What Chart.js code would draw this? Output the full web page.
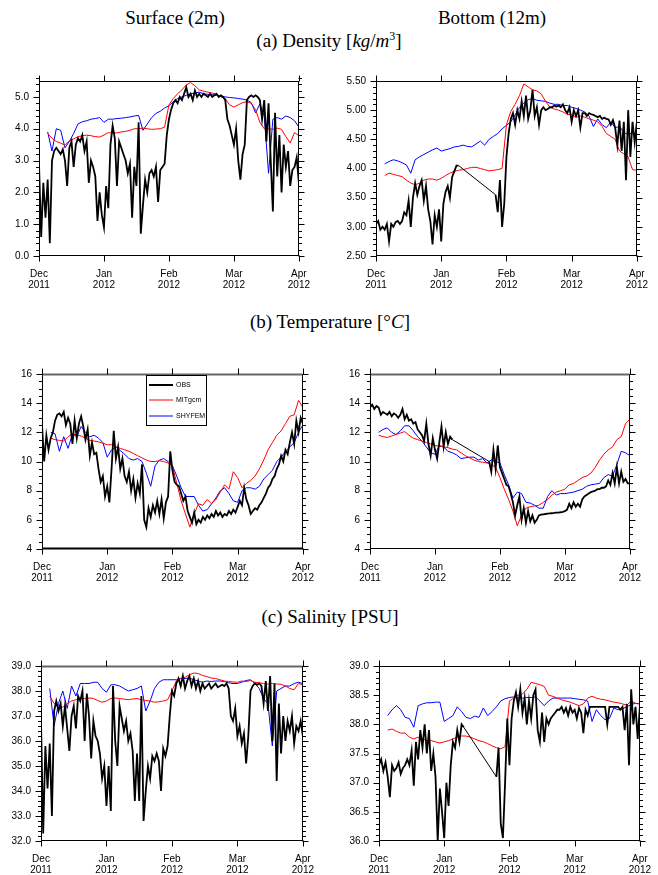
<!DOCTYPE html>
<html><head><meta charset="utf-8">
<script src="https://cdn.jsdelivr.net/npm/chart.js@4.4.1/dist/chart.umd.min.js"></script>
<style>
html,body{margin:0;padding:0;background:#fff;}
body{width:658px;height:875px;position:relative;overflow:hidden;}
.t{position:absolute;font-family:"Liberation Serif","Times New Roman",serif;font-size:19px;color:#000;white-space:nowrap;transform:translate(-50%,-50%);line-height:1;}
.t sup{font-size:12px;vertical-align:7px;line-height:0;}
canvas{position:absolute;}
</style></head><body>
<div class="t" style="left:175px;top:17px">Surface (2m)</div>
<div class="t" style="left:492px;top:17px">Bottom (12m)</div>
<div class="t" style="left:329px;top:40px">(a) Density [<i>kg</i>/<i>m</i><sup>3</sup>]</div>
<div class="t" style="left:330px;top:321px">(b) Temperature [°<i>C</i>]</div>
<div class="t" style="left:330px;top:616px">(c) Salinity [PSU]</div>
<canvas id="c1"></canvas><canvas id="c2"></canvas>
<canvas id="c3"></canvas><canvas id="c4"></canvas>
<canvas id="c5"></canvas><canvas id="c6"></canvas>
<script>
// ---- labels ----
const monthLabels = [['Dec','2011'],['Jan','2012'],['Feb','2012'],['Mar','2012'],['Apr','2012']];
const seriesNames = ['OBS','MITgcm','SHYFEM'];
const seriesColors = ['#000000','#ff0000','#0000ff'];
const densSurfTicks = [0,1,2,3,4,5];
const densBotTicks = [2.5,3,3.5,4,4.5,5,5.5];
const tempTicks = [4,6,8,10,12,14,16];
const salSurfTicks = [32,33,34,35,36,37,38,39];
const salBotTicks = [36,36.5,37,37.5,38,38.5,39];

// ---- OBS: one value per 1/30 month from 1 Dec 2011 (121 values); models: one per 1/15 month (61 values) ----
const densSurfObs = [2.9,0.6,2.3,1.2,2.4,0.4,3.0,3.3,3.4,3.3,
 3.2,3.35,3.0,2.2,3.4,3.6,2.8,3.5,3.7,3.6,
 3.8,3.3,3.6,2.3,3.0,2.8,2.5,1.1,2.0,1.3,
 0.9,2.2,1.5,3.5,4.1,3.7,2.2,3.6,3.4,3.2,
 3.0,2.6,2.9,1.2,2.8,2.2,4.2,0.7,1.6,2.4,
 2.0,2.6,2.7,2.5,2.8,1.7,2.7,2.8,2.9,3.8,
 4.3,4.6,4.8,4.9,4.8,5.0,4.9,5.1,5.3,5.0,
 5.1,4.9,5.2,5.0,5.1,5.0,5.1,5.05,5.0,5.1,
 5.0,5.05,5.1,5.0,5.05,5.0,4.9,4.3,4.1,3.8,
 3.5,4.0,3.0,2.4,3.2,3.5,4.9,5.0,5.05,5.0,
 5.05,5.0,4.9,4.3,4.9,3.6,4.8,3.0,1.4,4.5,
 2.5,3.8,2.0,3.5,2.8,3.3,2.2,2.7,2.8,3.1,
 2.3];
const densSurfMit = [null,null,3.85,3.7,3.6,3.55,3.48,3.62,3.68,3.75,
 3.78,3.8,3.78,3.75,3.74,3.8,3.88,3.86,3.87,3.9,
 3.92,3.95,4.0,4.0,4.02,4.0,3.98,3.99,4.0,4.05,
 4.75,4.95,5.1,5.22,5.38,5.45,5.35,5.22,5.18,5.15,
 5.12,5.08,5.0,4.95,4.75,4.68,4.75,4.82,4.85,4.8,
 4.6,4.2,4.0,4.0,3.98,4.02,3.98,3.75,3.55,3.88,
 3.78];
const densSurfShy = [null,null,3.9,3.3,4.0,3.95,3.4,3.6,3.85,4.15,
 4.22,4.25,4.3,4.32,4.35,4.2,4.3,4.3,4.32,4.33,
 4.35,4.37,4.4,4.42,3.95,4.15,4.35,4.48,4.55,4.65,
 4.72,4.85,4.95,5.0,5.05,5.1,5.12,5.15,5.1,5.08,
 5.07,5.05,5.02,5.0,4.98,4.97,4.95,4.93,4.9,4.82,
 4.5,4.78,4.4,2.6,4.3,4.35,4.3,4.4,4.35,4.25,
 4.05];

const densBotObs = [3.05,3.1,2.95,3.0,2.95,3.05,2.75,3.05,3.0,3.08,
 3.1,3.05,3.1,3.25,3.2,3.45,3.0,3.5,3.75,3.55,
 3.7,3.8,3.45,3.7,3.3,3.1,2.7,3.2,3.0,3.3,
 2.75,3.4,3.6,3.7,3.5,3.85,3.95,4.05,4.05,null,
 null,null,null,null,null,null,null,null,null,null,
 null,null,null,null,null,3.55,3.25,3.8,3.0,3.4,
 4.2,4.6,4.85,4.95,4.75,5.0,4.85,5.15,4.9,5.25,
 4.85,5.0,5.35,4.9,5.05,4.75,5.0,5.05,5.0,5.02,
 5.05,5.05,5.08,5.06,5.08,5.05,5.1,5.0,4.95,5.05,
 4.8,5.0,4.9,5.0,4.7,4.95,4.95,4.9,4.95,4.93,
 4.92,4.9,4.88,4.9,4.85,4.87,4.85,4.84,4.75,4.83,
 4.7,4.4,4.82,4.3,4.8,3.8,5.0,4.2,4.8,4.45,
 4.8];
const densBotMit = [null,null,3.88,3.92,3.9,3.88,3.86,3.8,3.75,3.72,
 3.75,3.8,3.82,3.82,3.8,3.83,3.88,3.92,3.95,3.97,
 3.98,4.0,4.02,4.02,4.0,3.98,3.96,3.97,3.98,4.0,
 4.75,4.98,5.1,5.25,5.45,5.4,5.35,5.33,5.28,5.15,
 5.05,5.02,5.0,4.97,4.93,4.92,4.88,4.9,4.88,4.85,
 4.83,4.8,4.72,4.6,4.55,4.5,4.3,4.25,4.2,3.98,
 3.97];
const densBotShy = [null,null,4.08,4.12,4.15,4.13,4.1,4.06,3.92,4.15,
 4.2,4.24,4.28,4.32,4.35,4.3,4.32,4.34,4.37,4.38,
 4.4,4.38,4.37,4.42,4.47,4.4,4.5,4.55,4.6,4.68,
 4.74,4.8,4.92,5.05,5.12,5.18,5.2,5.17,5.16,5.15,
 5.12,5.1,5.1,5.08,5.08,5.05,5.03,5.0,4.97,4.9,
 4.72,4.85,4.75,4.7,4.8,4.7,4.72,4.62,4.58,4.62,
 4.55];

const tempSurfObs = [12.5,10.0,11.8,10.8,11.6,12.0,12.8,13.2,13.3,13.1,
 13.4,12.5,13.0,12.6,11.2,12.8,11.6,12.6,13.1,12.4,
 11.5,12.2,10.4,11.3,10.5,10.6,9.5,8.6,9.0,7.6,
 8.3,7.2,9.5,12.1,10.2,11.0,9.5,10.2,9.0,8.6,
 9.3,8.0,8.8,7.5,8.5,7.8,9.8,6.0,5.5,6.8,
 6.2,7.0,6.5,7.3,6.4,7.4,6.1,7.2,7.6,10.7,
 9.4,8.6,8.4,8.3,7.8,7.3,7.6,6.6,6.2,5.8,
 6.5,5.7,6.0,5.8,6.2,6.0,6.3,6.1,6.4,6.2,
 6.6,6.3,6.5,6.2,6.4,6.3,6.6,6.4,6.7,6.5,
 6.9,7.3,7.0,8.2,7.4,7.0,6.4,6.6,6.8,6.7,
 7.0,7.2,7.5,7.8,8.2,8.4,8.8,9.0,9.5,9.8,
 10.4,10.0,10.8,10.5,11.3,12.0,11.2,12.8,12.0,13.0,
 12.6];
const tempSurfMit = [null,null,11.6,11.5,11.45,11.4,11.7,11.9,11.8,11.75,
 11.6,11.45,11.4,11.35,11.25,11.15,11.15,11.0,10.9,10.8,
 10.7,10.55,10.4,10.25,10.1,10.0,10.0,10.05,10.0,9.9,
 9.7,8.5,7.3,6.4,5.5,6.4,7.1,7.0,7.4,7.1,
 7.4,7.9,8.4,8.1,9.3,8.9,8.2,8.5,8.7,9.0,
 9.5,10.1,10.8,11.3,11.8,12.1,12.6,13.1,13.2,14.2,
 13.7];
const tempSurfShy = [null,null,12.0,11.9,10.7,11.7,10.9,11.9,11.7,12.4,
 12.0,11.7,11.8,11.6,11.3,10.3,10.8,11.0,10.75,10.5,
 10.2,10.1,10.2,10.0,9.2,8.3,9.7,10.1,10.2,10.0,
 9.7,9.0,8.2,7.6,7.6,7.6,7.0,6.6,6.7,7.1,
 7.5,8.0,8.2,7.8,7.3,7.2,8.0,8.2,8.2,8.1,
 8.3,8.8,9.1,9.4,10.0,10.3,10.7,11.0,11.3,12.0,
 12.5];

const tempBotObs = [13.7,13.9,13.6,13.8,13.7,13.2,13.4,13.3,13.2,13.4,
 13.1,13.3,13.2,13.0,13.2,13.6,12.9,13.2,12.8,12.9,
 12.6,12.7,12.2,12.0,11.8,11.4,12.6,11.2,10.4,11.6,
 10.8,10.2,11.3,12.4,11.0,12.0,11.2,11.7,11.5,null,
 null,null,null,null,null,null,null,null,null,null,
 null,null,null,null,null,10.0,9.3,10.8,9.5,11.1,
 9.6,9.2,8.8,8.4,8.3,7.8,7.2,6.3,7.0,7.6,
 6.0,6.8,5.8,6.6,5.9,6.3,5.8,6.0,6.3,6.35,
 6.38,6.4,6.42,6.44,6.45,6.47,6.5,6.5,6.52,6.55,
 6.6,6.7,7.1,6.8,7.2,6.9,7.1,6.9,7.4,7.6,
 7.7,7.8,7.9,7.95,8.0,8.1,8.1,8.2,8.2,8.3,
 8.7,8.4,9.2,8.5,9.6,8.5,9.3,8.6,8.8,8.5,
 8.5];
const tempBotMit = [null,null,11.8,11.7,11.65,11.75,11.85,11.95,12.05,11.8,
 11.6,11.5,11.4,11.3,11.2,11.1,11.05,11.0,10.95,10.85,
 10.8,10.6,10.4,10.25,10.1,10.0,9.95,9.9,9.8,9.6,
 8.9,8.1,7.4,6.6,5.6,6.3,6.8,6.9,6.95,7.0,
 7.2,7.4,7.7,7.9,8.0,8.1,8.4,8.5,8.7,8.9,
 9.0,9.2,9.6,10.1,10.5,10.8,11.0,11.5,11.7,12.6,
 12.9];
const tempBotShy = [null,null,12.0,12.2,12.3,12.0,11.85,12.1,12.45,12.45,
 12.1,11.7,11.4,11.0,10.6,10.5,11.1,11.0,10.7,10.6,
 10.45,10.2,10.25,10.3,10.3,10.1,10.2,9.9,10.1,10.0,
 9.9,9.1,8.4,7.5,7.9,7.8,7.2,7.15,7.0,6.8,
 6.8,7.6,8.0,7.7,7.8,7.8,7.85,7.9,8.0,8.1,
 8.3,8.4,8.45,8.5,8.9,9.1,9.0,9.8,10.7,10.6,
 10.4];

const salSurfObs = [36.8,32.3,35.8,34.1,35.9,33.0,37.2,37.6,37.2,37.5,
 36.6,37.4,36.5,35.6,37.0,37.4,36.5,37.8,37.6,38.0,
 36.0,37.9,37.0,35.3,36.8,36.2,36.0,35.5,34.5,35.0,
 33.4,35.0,33.2,38.2,36.0,35.0,37.4,36.9,36.4,36.8,
 36.0,36.3,35.6,33.6,35.5,33.6,37.8,32.8,34.0,35.0,
 34.5,35.4,35.2,35.5,35.2,34.0,35.7,35.4,35.8,37.0,
 38.0,37.8,38.3,38.5,38.2,38.6,38.1,38.4,38.6,38.2,
 38.5,38.1,38.4,38.0,38.3,38.1,38.2,38.3,38.1,38.2,
 38.3,38.15,38.2,38.25,38.2,38.3,38.1,37.0,36.8,37.3,
 36.2,36.6,35.9,36.3,35.1,36.2,38.0,38.2,38.3,38.25,
 38.3,38.2,37.5,38.4,37.2,38.6,36.0,38.3,34.4,37.5,
 35.5,37.0,36.0,36.8,36.4,37.0,35.9,36.6,36.4,36.8,
 36.2];
const salSurfMit = [null,null,37.8,37.5,37.4,37.35,37.5,37.6,37.65,37.7,
 37.7,37.72,37.7,37.62,37.55,37.6,37.7,37.72,37.7,37.68,
 37.65,37.68,37.7,37.65,37.62,37.6,37.55,37.57,37.6,37.65,
 38.0,38.4,38.5,38.55,38.65,38.72,38.7,38.62,38.58,38.52,
 38.5,38.45,38.4,38.38,38.36,38.35,38.4,38.38,38.42,38.35,
 38.33,38.3,38.28,38.3,38.28,38.27,38.2,38.1,38.05,38.3,
 38.25];
const salSurfShy = [null,null,38.1,36.6,37.5,38.0,37.3,38.2,37.8,38.3,
 38.3,38.3,38.35,38.35,38.1,37.95,38.25,38.25,38.2,38.1,
 38.0,38.05,38.1,38.2,37.2,37.6,38.1,38.35,38.45,38.45,
 38.45,38.45,38.5,38.5,38.52,38.45,38.4,38.35,38.4,38.38,
 38.4,38.4,38.38,38.33,38.3,38.3,38.35,38.42,38.45,38.3,
 38.1,37.7,37.5,35.8,38.0,38.1,38.2,38.2,38.3,38.35,
 38.3];

const salBotObs = [37.3,37.4,37.2,37.35,37.1,36.75,37.3,37.2,37.25,37.35,
 37.15,37.25,37.3,37.4,37.3,37.55,36.95,37.7,37.4,37.9,
 37.6,38.0,37.5,37.9,37.2,37.5,37.1,36.0,36.9,36.5,
 36.05,37.0,36.6,37.3,37.7,37.6,37.9,37.7,38.0,37.95,
 null,null,null,null,null,null,null,null,null,null,
 null,null,null,null,37.1,37.6,36.3,36.05,37.0,38.1,
 37.3,38.1,38.4,38.55,38.3,38.6,38.2,38.45,38.0,38.4,
 38.1,38.5,38.6,37.9,37.7,38.2,37.7,38.1,38.0,38.1,
 38.15,38.2,38.25,38.25,38.3,38.2,38.28,38.15,38.3,38.2,
 38.25,38.1,38.28,38.2,37.85,38.25,38.15,38.3,38.3,38.3,
 38.3,38.3,38.3,38.3,38.3,38.0,38.3,38.3,38.3,38.3,
 38.3,38.25,38.3,37.9,38.35,37.3,38.6,38.0,38.3,37.75,
 38.3];
const salBotMit = [null,null,37.9,37.92,37.88,37.85,37.85,37.78,37.75,37.78,
 37.75,37.72,37.72,37.7,37.68,37.7,37.72,37.75,37.78,37.8,
 37.8,37.78,37.75,37.72,37.7,37.67,37.63,37.6,37.58,37.62,
 38.4,38.45,38.5,38.52,38.6,38.72,38.7,38.68,38.65,38.5,
 38.48,38.45,38.42,38.4,38.38,38.35,38.32,38.35,38.45,38.48,
 38.45,38.43,38.42,38.4,38.38,38.37,38.35,38.33,38.4,38.36,
 38.35];
const salBotShy = [null,null,38.15,38.25,38.32,38.25,38.12,38.1,37.95,38.32,
 38.35,38.37,38.37,38.38,38.38,38.05,38.1,38.15,38.3,38.22,
 38.12,38.1,38.14,38.12,38.28,38.15,38.22,38.3,38.4,38.44,
 38.46,38.47,38.46,38.45,38.46,38.46,38.47,38.4,38.32,38.4,
 38.45,38.45,38.45,38.45,38.45,38.44,38.43,38.42,38.4,38.05,
 38.25,38.15,38.08,38.1,38.28,38.25,38.27,38.3,38.34,38.36,
 38.35];

// ---- drawing ----
const SANS = '"Liberation Sans", Arial, Helvetica, sans-serif';
function pts(vals, step){ const out=[]; vals.forEach((v,k)=>{ if(v!==null) out.push({x:k*step, y:v}); }); return out; }

const framePlugin = {
  id:'frame',
  afterDatasetsDraw(chart){
    const cfg = chart.$panel;
    const {ctx, chartArea:a, scales:{x,y}} = chart;
    ctx.save();
    ctx.strokeStyle='#000'; ctx.lineWidth=1;
    const L=Math.round(a.left)+0.5, R=Math.round(a.right)-0.5, T=Math.round(a.top)+0.5, B=Math.round(a.bottom)-0.5;
    ctx.strokeRect(L, T, R-L, B-T);
    if(cfg.thickTop){ ctx.save(); ctx.strokeStyle=cfg.thickTop; ctx.lineWidth=2; ctx.beginPath(); ctx.moveTo(L,T); ctx.lineTo(R,T); ctx.stroke(); ctx.restore(); }
    if(cfg.thickBottom){ ctx.save(); ctx.strokeStyle=cfg.thickBottom; ctx.lineWidth=2; ctx.beginPath(); ctx.moveTo(L,B); ctx.lineTo(R,B); ctx.stroke(); ctx.restore(); }
    ctx.beginPath();
    for(let m=0;m<monthLabels.length;m++){
      const px=Math.round(x.getPixelForValue(m))+0.5;
      ctx.moveTo(px,B); ctx.lineTo(px,B+6);
      ctx.moveTo(px,T); ctx.lineTo(px,T-6);
    }
    cfg.ticks.forEach(v=>{
      const py=Math.round(y.getPixelForValue(v))+0.5;
      ctx.moveTo(L,py); ctx.lineTo(L-6,py);
      ctx.moveTo(R,py); ctx.lineTo(R+6,py);
    });
    const n=Math.round((cfg.max-cfg.min)/cfg.minor);
    for(let k=0;k<=n;k++){
      const v=cfg.min+k*cfg.minor;
      if(cfg.ticks.some(t=>Math.abs(t-v)<1e-6)) continue;
      const py=Math.round(y.getPixelForValue(v))+0.5;
      ctx.moveTo(L,py); ctx.lineTo(L-3.5,py);
      ctx.moveTo(R,py); ctx.lineTo(R+3.5,py);
    }
    ctx.stroke();
    if(cfg.legend){
      const bx=a.left+104, by=a.top+1, bw=60, bh=50;
      ctx.fillStyle='#fff'; ctx.fillRect(bx,by,bw,bh);
      ctx.lineWidth=1; ctx.strokeStyle='#000';
      ctx.strokeRect(Math.round(bx)+0.5,Math.round(by)+0.5,bw,bh);
      const ys=[10,25,41];
      chart.data.datasets.forEach((d,k)=>{
        ctx.beginPath(); ctx.strokeStyle=d.borderColor; ctx.lineWidth=k===0?2:1;
        ctx.moveTo(bx+3,by+ys[k]); ctx.lineTo(bx+27,by+ys[k]); ctx.stroke();
        ctx.fillStyle='#000'; ctx.font='7px '+SANS; ctx.textBaseline='middle'; ctx.textAlign='left';
        ctx.fillText(d.label,bx+30,by+ys[k]);
      });
    }
    ctx.restore();
  }
};

function makeChart(id, p){
  const cv=document.getElementById(id);
  const padL=46, padR=16, padT=12, padB=42;
  const w=p.R-p.L+padL+padR, h=p.B-p.T+padT+padB;
  cv.width=w; cv.height=h; cv.style.width=w+'px'; cv.style.height=h+'px';
  cv.style.left=(p.L-padL)+'px'; cv.style.top=(p.T-padT)+'px';
  const ch=new Chart(cv,{
    type:'line',
    data:{datasets:[
      {label:seriesNames[0], data:pts(p.obs,1/30), borderColor:seriesColors[0], borderWidth:1.8, pointRadius:0, tension:0,
        segment:{borderWidth:c=>(c.p1.parsed.x-c.p0.parsed.x>0.1?1:undefined)}},
      {label:seriesNames[1], data:pts(p.mit,1/15), borderColor:seriesColors[1], borderWidth:1, pointRadius:0, tension:0},
      {label:seriesNames[2], data:pts(p.shy,1/15), borderColor:seriesColors[2], borderWidth:1, pointRadius:0, tension:0}
    ]},
    options:{
      responsive:false, animation:false, devicePixelRatio:1,
      layout:{padding:{left:0,right:padR,top:padT,bottom:0}},
      plugins:{legend:{display:false}, tooltip:{enabled:false}},
      scales:{
        x:{type:'linear', min:0, max:4,
          afterFit:s=>{s.height=padB;},
          afterBuildTicks:s=>{s.ticks=monthLabels.map((_,k)=>({value:k}));},
          grid:{display:false,drawTicks:false,tickLength:0}, border:{display:false},
          ticks:{autoSkip:false,maxRotation:0,padding:12,color:'#000',font:{family:SANS,size:10,lineHeight:1.15},
            callback:(v,i)=>monthLabels[i]}},
        y:{type:'linear', min:p.min, max:p.max,
          afterFit:s=>{s.width=padL;},
          afterBuildTicks:s=>{s.ticks=p.ticks.map(v=>({value:v}));},
          grid:{display:false,drawTicks:false,tickLength:0}, border:{display:false},
          ticks:{autoSkip:false,padding:10,color:'#000',font:{family:SANS,size:10},
            callback:(v)=>Number(v).toFixed(p.dec)}}
      }
    },
    plugins:[{id:'panelcfg',beforeInit(c){c.$panel=p;}}, framePlugin]
  });
  return ch;
}

makeChart('c1',{L:39,R:306,T:77,B:256,min:0,max:5.5,ticks:densSurfTicks,minor:0.2,dec:1,obs:densSurfObs,mit:densSurfMit,shy:densSurfShy});
makeChart('c2',{L:376,R:644,T:77,B:256,min:2.5,max:5.5,ticks:densBotTicks,minor:0.1,dec:2,obs:densBotObs,mit:densBotMit,shy:densBotShy});
makeChart('c3',{L:42,R:310,T:370,B:549,min:4,max:16,ticks:tempTicks,minor:0.5,dec:0,obs:tempSurfObs,mit:tempSurfMit,shy:tempSurfShy,legend:true,thickTop:'#666',thickBottom:'#000'});
makeChart('c4',{L:370,R:637,T:370,B:549,min:4,max:16,ticks:tempTicks,minor:0.5,dec:0,obs:tempBotObs,mit:tempBotMit,shy:tempBotShy,thickTop:'#666'});
makeChart('c5',{L:41,R:310,T:662,B:841,min:32,max:39,ticks:salSurfTicks,minor:0.2,dec:1,obs:salSurfObs,mit:salSurfMit,shy:salSurfShy,thickTop:'#666'});
makeChart('c6',{L:379,R:647,T:662,B:841,min:36,max:39,ticks:salBotTicks,minor:0.1,dec:1,obs:salBotObs,mit:salBotMit,shy:salBotShy});
</script>
</body></html>
